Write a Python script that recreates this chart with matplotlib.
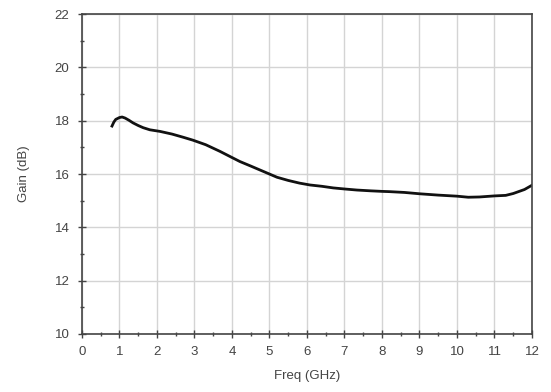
import matplotlib
matplotlib.use("Agg")
import matplotlib.pyplot as plt
from matplotlib.ticker import MultipleLocator

freq = [0.80, 0.85, 0.90, 1.00, 1.07, 1.15, 1.25, 1.36, 1.50, 1.63, 1.81, 2.08, 2.40, 2.70,
        2.96, 3.30, 3.68, 4.00, 4.21, 4.50, 4.75, 5.00, 5.20, 5.50, 5.80, 6.08, 6.40,
        6.70, 7.00, 7.33, 7.70, 8.00, 8.20, 8.60, 9.00, 9.50, 10.00, 10.30, 10.60,
        11.00, 11.30, 11.50, 11.80, 12.00]
gain = [17.80, 17.95, 18.05, 18.12, 18.14, 18.10, 18.02, 17.92, 17.82, 17.74, 17.66, 17.60,
        17.50, 17.38, 17.27, 17.10, 16.85, 16.62, 16.47, 16.30, 16.15, 16.00, 15.88, 15.76,
        15.66, 15.59, 15.54, 15.48, 15.44, 15.40, 15.37, 15.35, 15.34, 15.31, 15.26,
        15.21, 15.17, 15.13, 15.14, 15.18, 15.20, 15.27, 15.42, 15.58]

xticks = list(range(0, 13))
yticks = [10, 12, 14, 16, 18, 20, 22]

plt.rcParams['font.family'] = ['Liberation Sans', 'DejaVu Sans']
fig = plt.figure(figsize=(5.51, 3.92), dpi=100)
ax = fig.add_axes([0.1488, 0.148, 0.8167, 0.816])

ax.plot(freq, gain, color='#111111', lw=2.0)

ax.set_xlim(0, 12)
ax.set_ylim(10, 22)
ax.set_xticks(xticks)
ax.set_yticks(yticks)
ax.xaxis.set_minor_locator(MultipleLocator(0.5))
ax.yaxis.set_minor_locator(MultipleLocator(1))
ax.grid(True, which='major', color='#d4d4d4', lw=1.0)
ax.set_axisbelow(True)

for s in ax.spines.values():
    s.set_color('#444444')
    s.set_linewidth(1.2)

ax.tick_params(axis='both', which='major', direction='inout', length=6, width=1,
               color='#444444', labelcolor='#444444', labelsize=9.5)
ax.tick_params(axis='both', which='minor', direction='inout', length=3, width=1,
               color='#444444')
ax.tick_params(axis='y', pad=6)
ax.tick_params(axis='x', pad=6)

ax.set_xlabel('Freq (GHz)', fontsize=9.5, color='#444444', labelpad=8)
ax.set_ylabel('Gain (dB)', fontsize=9.5, color='#444444', labelpad=18)

fig.savefig('out.png', dpi=100)
